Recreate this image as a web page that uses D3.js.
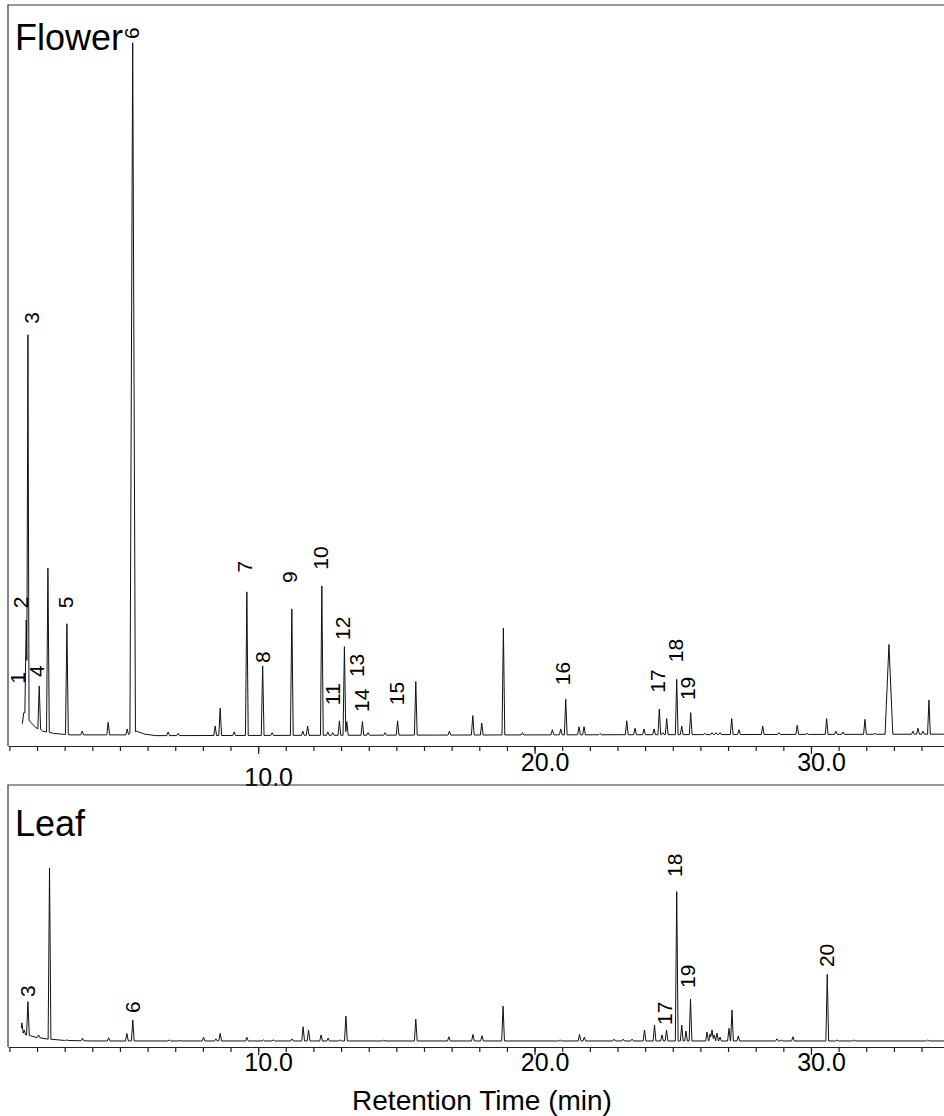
<!DOCTYPE html>
<html>
<head>
<meta charset="utf-8">
<script src="https://cdn.jsdelivr.net/npm/d3@7"></script>
<style>
  body { margin: 0; background: #fff; }
  svg { display: block; }
  text { font-family: "Liberation Sans", Arial, sans-serif; fill: #000; }
</style>
</head>
<body>
<div id="chart"></div>
<script>
// peaks: [retention time (min), signal, half width (min, optional)]
var flowerPeaks = [
  [1.555, 4.5], [1.61, 17.0], [1.671, 55.5, 0.04], [2.08, 8.1], [2.394, 24.0],
  [3.081, 16.5], [3.635, 2.0], [4.575, 3.2], [5.262, 2.3], [5.461, 94.9, 0.1],
  [6.745, 1.9], [7.107, 1.7], [8.445, 2.7], [8.626, 5.1], [9.132, 1.9],
  [9.591, 20.8], [10.163, 10.8], [10.506, 1.8], [11.219, 18.5], [11.617, 2.0],
  [11.79, 2.7], [12.304, 21.6], [12.52, 1.9], [12.70, 1.8], [12.94, 3.4],
  [13.121, 13.4], [13.208, 3.3], [13.772, 3.3], [13.978, 1.8], [14.593, 1.8],
  [15.045, 3.4], [15.703, 8.7], [16.919, 2.0], [17.765, 4.1], [18.09, 3.1],
  [18.872, 15.9], [19.559, 1.8], [20.644, 2.2], [20.948, 2.3], [21.128, 6.3],
  [21.609, 2.6], [21.79, 2.6], [22.369, 1.7], [23.335, 3.4], [23.635, 2.4],
  [23.96, 2.3], [24.322, 2.3], [24.514, 5.0], [24.637, 1.8], [24.781, 3.7],
  [25.143, 9.0], [25.324, 2.7], [25.649, 4.5], [26.166, 1.7], [26.42, 1.8],
  [26.56, 1.8], [26.71, 1.8], [27.132, 3.7], [27.396, 2.2], [28.253, 2.7],
  [28.843, 1.8], [29.504, 2.8], [29.855, 1.7], [30.567, 3.7], [30.9, 2.0],
  [31.157, 1.9], [31.953, 3.6], [32.315, 1.7], [32.821, 13.7, 0.14], [33.689, 2.0],
  [33.87, 2.4], [34.05, 2.0], [34.268, 6.2]
];
var flowerBaseline = [
  [1.47, 3.0], [1.52, 4.5], [1.75, 3.3], [1.95, 2.5], [2.2, 2.0], [2.6, 1.7],
  [3.2, 1.5], [5.3, 1.5], [5.6, 2.0], [5.9, 1.6], [6.3, 1.4], [20, 1.5], [35.5, 1.6]
];
// compound numbers: [label, time, signal where the label starts]
var flowerLabels = [
  ["1", 1.302, 8.4], ["2", 1.393, 18.6], ["3", 1.79, 57.0], ["4", 1.989, 9.3],
  ["5", 3.038, 18.6], ["6", 5.425, 95.4], ["7", 9.494, 23.4], ["8", 10.145, 11.2],
  ["9", 11.157, 22.0], ["10", 12.278, 23.8], ["11", 12.712, 5.5], ["12", 13.074, 14.3],
  ["13", 13.58, 9.3], ["14", 13.761, 4.6], ["15", 15.027, 5.5], ["16", 21.03, 8.2],
  ["17", 24.467, 7.2], ["18", 25.118, 11.3], ["19", 25.552, 6.2]
];

var leafPeaks = [
  [1.454, 9.2], [1.537, 6.5], [1.671, 17.3], [2.054, 4.6], [2.452, 68.3],
  [3.081, 2.7], [3.646, 3.4], [4.593, 3.5], [5.251, 5.2], [5.465, 10.3],
  [6.781, 2.7], [7.179, 2.5], [8.022, 3.7], [8.47, 3.1], [8.626, 5.2],
  [9.591, 3.7], [10.19, 2.7], [10.55, 2.7], [11.219, 3.1], [11.627, 7.7],
  [11.823, 6.5], [12.278, 4.6], [12.532, 3.4], [12.966, 2.7], [13.175, 11.8],
  [14.546, 2.6], [15.703, 10.6], [16.9, 3.9], [17.772, 4.8], [18.1, 4.3],
  [18.861, 15.6], [20.922, 2.7], [21.627, 4.8], [21.801, 3.8], [22.875, 3.0],
  [23.2, 3.0], [23.526, 3.0], [23.978, 6.5], [24.34, 8.4], [24.61, 4.6],
  [24.774, 6.5], [25.143, 59.3], [25.324, 8.4], [25.479, 6.1], [25.642, 18.3],
  [26.24, 5.7], [26.35, 5.0], [26.42, 6.5], [26.5, 4.6], [26.6, 5.3],
  [26.71, 3.8], [27.034, 7.1], [27.143, 14.1], [27.371, 4.2], [28.77, 3.1],
  [28.915, 2.7], [29.349, 3.9], [30.589, 27.7], [30.94, 2.7], [31.555, 2.7],
  [34.23, 2.7]
];
var leafBaseline = [
  [1.43, 5.0], [1.5, 4.8], [1.8, 4.2], [2.0, 3.6], [2.4, 3.0], [3.0, 2.5],
  [4.0, 2.3], [35.5, 2.3]
];
var leafLabels = [
  ["3", 1.646, 19.1], ["6", 5.443, 13.0], ["17", 24.72, 8.4],
  ["18", 25.08, 64.9], ["19", 25.55, 22.5], ["20", 30.58, 30.5]
];

var minorTicks = d3.range(1, 36);
var majorTicks = [10, 20, 30];
var tickLabels = ["10.0", "20.0", "30.0"];

var W = 944, H = 1116;
var svg = d3.select("#chart").append("svg")
    .attr("width", W)
    .attr("height", H);

// x scale shared by both panels, right edge runs off the page like the original
var x = d3.scaleLinear().domain([0.95, 35.5]).range([8, 963]);

function buildTrace(peaks, base) {
  var baseAt = function(t) {
    for (var i = 1; i < base.length; i++) {
      if (t <= base[i][0]) {
        var a = base[i - 1], b = base[i];
        return a[1] + (b[1] - a[1]) * (t - a[0]) / (b[0] - a[0]);
      }
    }
    return base[base.length - 1][1];
  };
  var ts = base.map(function(b) { return b[0]; });
  peaks.forEach(function(p) {
    var w = p[2] || 0.05;
    ts.push(p[0] - w, p[0], p[0] + w);
  });
  var t0 = base[0][0], t1 = base[base.length - 1][0];
  ts = Array.from(new Set(ts)).filter(function(t) { return t >= t0 && t <= t1; })
    .sort(function(a, b) { return a - b; });
  return ts.map(function(t) {
    var v = baseAt(t);
    peaks.forEach(function(p) {
      var w = p[2] || 0.05;
      var d = Math.abs(t - p[0]);
      if (d < w) {
        var b = baseAt(p[0]);
        v = Math.max(v, b + (p[1] - b) * (1 - d / w));
      }
    });
    return [t, v];
  });
}

function drawPanel(cfg) {
  var y = d3.scaleLinear().domain([0, 100]).range([cfg.bottom, cfg.top]);
  var g = svg.append("g");

  // frame: left and top edge
  g.append("path")
    .attr("d", "M" + x.range()[0] + "," + cfg.bottom + "V" + cfg.top + "H" + x.range()[1])
    .attr("fill", "none")
    .attr("stroke", "#333")
    .attr("stroke-width", 1.2);

  // minor ticks
  g.append("g")
    .attr("transform", "translate(0," + cfg.bottom + ")")
    .call(d3.axisBottom(x).tickValues(minorTicks).tickSize(5).tickSizeOuter(0).tickFormat(""))
    .call(function(a) {
      a.select(".domain").attr("stroke", "#222").attr("stroke-width", 1.2);
      a.selectAll(".tick line").attr("stroke", "#222").attr("stroke-width", 1.2);
    });

  // major ticks with labels
  g.append("g")
    .attr("transform", "translate(0," + cfg.bottom + ")")
    .call(d3.axisBottom(x).tickValues(majorTicks).tickSize(8).tickSizeOuter(0)
      .tickFormat(function(d, i) { return tickLabels[i]; }))
    .call(function(a) {
      a.select(".domain").remove();
      a.selectAll(".tick line").attr("stroke", "#222").attr("stroke-width", 1.2);
      a.selectAll(".tick text")
        .attr("x", 10)
        .attr("dy", 0)
        .attr("y", function(d) { return cfg.labelDrop(d); })
        .attr("fill", "#000")
        .style("font-size", "25px")
        .style("font-family", '"Liberation Sans", Arial, sans-serif');
    });

  // chromatogram trace
  var line = d3.line()
    .x(function(d) { return x(d[0]); })
    .y(function(d) { return y(d[1]); });
  g.append("path")
    .datum(buildTrace(cfg.peaks, cfg.base))
    .attr("d", line)
    .attr("fill", "none")
    .attr("stroke", "#111")
    .attr("stroke-width", 1)
    .attr("stroke-linejoin", "round");

  // compound numbers, reading upward
  g.selectAll(".num")
    .data(cfg.labels)
    .enter()
    .append("text")
    .attr("class", "num")
    .attr("transform", function(d) { return "translate(" + x(d[1]) + "," + y(d[2]) + ") rotate(-90)"; })
    .attr("dy", "0.35em")
    .style("font-size", "21px")
    .text(function(d) { return d[0]; });

  // panel name
  g.append("text")
    .attr("x", 15)
    .attr("y", cfg.top + cfg.nameOffset)
    .style("font-size", "36px")
    .text(cfg.name);
}

drawPanel({
  name: "Flower", top: 5, bottom: 746, nameOffset: 45,
  peaks: flowerPeaks, base: flowerBaseline, labels: flowerLabels,
  labelDrop: function(d) { return d === 10 ? 40 : 25; }
});
drawPanel({
  name: "Leaf", top: 785, bottom: 1047, nameOffset: 51,
  peaks: leafPeaks, base: leafBaseline, labels: leafLabels,
  labelDrop: function() { return 24; }
});

svg.append("text")
  .attr("x", 482)
  .attr("y", 1110)
  .attr("text-anchor", "middle")
  .style("font-size", "28px")
  .text("Retention Time (min)");
</script>
</body>
</html>
